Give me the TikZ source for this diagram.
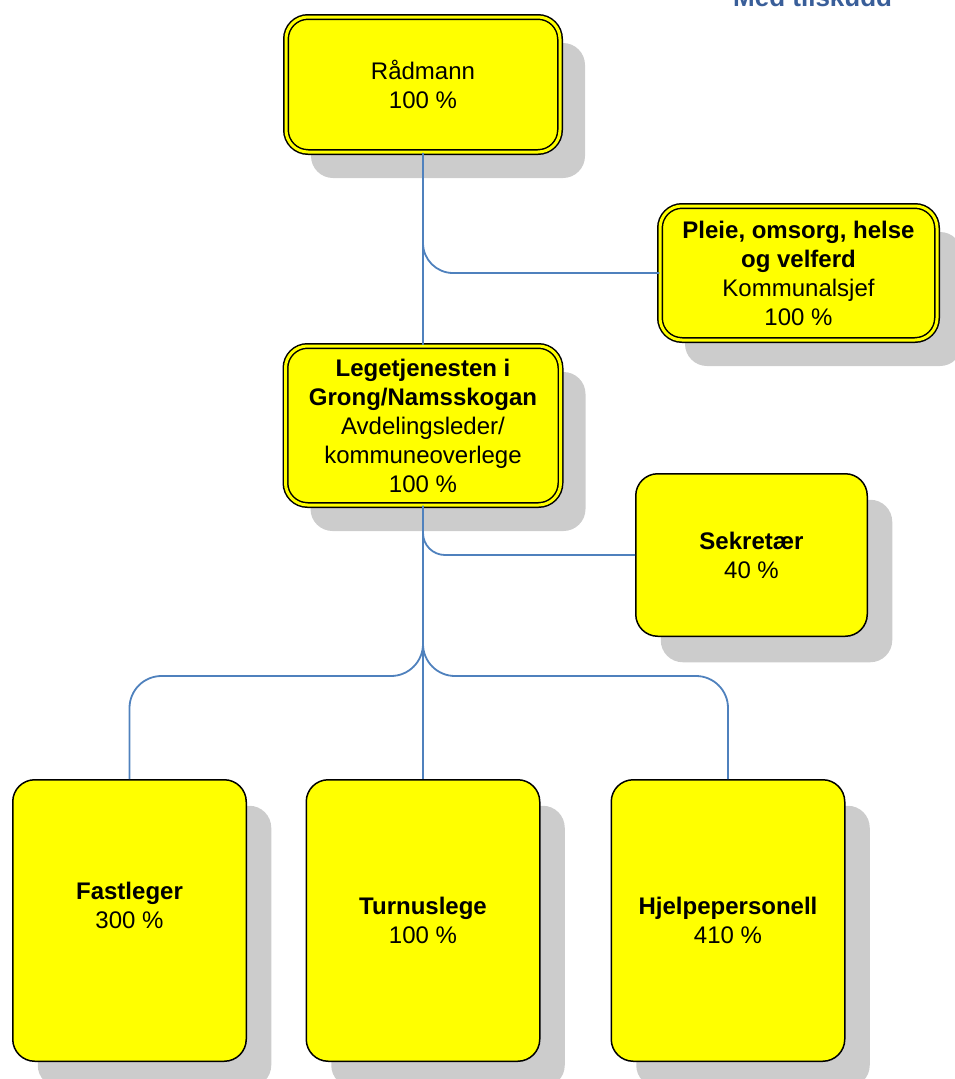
\documentclass[tikz,border=0pt]{standalone}
\usepackage{fontspec}
\setmainfont{Liberation Sans}
\usetikzlibrary{shadows}
\definecolor{boxyellow}{RGB}{255,255,0}
\definecolor{conncol}{RGB}{79,129,189}
\definecolor{shadowgray}{RGB}{204,204,204}
\definecolor{titleblue}{RGB}{57,94,153}
\begin{document}
\begin{tikzpicture}[x=1pt,y=-1pt,
  box/.style={draw=black, line width=1.5pt, fill=boxyellow, rounded corners=22pt,
    inner sep=0pt, align=center, font=\fontsize{24}{29}\selectfont,
    general shadow={fill=shadowgray, shadow xshift=25pt, shadow yshift=-26pt}},
  dbox/.style={box, double=boxyellow, double distance=3pt},
  txt/.style={inner sep=0pt, align=center, font=\fontsize{24}{29}\selectfont},
  conn/.style={draw=conncol, line width=1.8pt, rounded corners=30pt}]
\useasboundingbox (0,0) rectangle (955,1079);

% title at the top edge, mostly outside the picture as in the reference
\node[anchor=base west, inner sep=0pt, text=titleblue,
  font=\bfseries\fontsize{26}{30}\selectfont] (title) at (733,6) {Med tilskudd};

\node[dbox, minimum width=274pt, minimum height=135pt] (rad) at (423,84.5)
  {Rådmann\\100 \%};
\node[dbox, minimum width=277pt, minimum height=134pt] (pleie) at (798.5,273)
  {\textbf{Pleie, omsorg, helse}\\\textbf{og velferd}\\Kommunalsjef\\100 \%};
\node[dbox, minimum width=275pt, minimum height=159pt] (lege) at (423,425.5)
  {\textbf{Legetjenesten i}\\\textbf{Grong/Namsskogan}\\Avdelingsleder/\\kommuneoverlege\\100 \%};
\node[box, minimum width=231.5pt, minimum height=162.5pt] (sek) at (751.5,555)
  {\textbf{Sekretær}\\40 \%};
\node[box, minimum width=233.5pt, minimum height=281.5pt] (fast) at (129.5,920.5) {};
\node[txt] (fasttxt) at (129.5,905) {\textbf{Fastleger}\\300 \%};
\node[box, minimum width=233.5pt, minimum height=281.5pt] (turn) at (423,920.5)
  {\textbf{Turnuslege}\\100 \%};
\node[box, minimum width=233.5pt, minimum height=281.5pt] (hjelp) at (728,920.5)
  {\textbf{Hjelpepersonell}\\410 \%};

\coordinate (hub) at (423,676);

\draw[conn] (rad.south) -- (lege.north);
\draw[conn] (pleie.west) -| (rad.south);
\draw[conn, rounded corners=22pt] (sek.west) -| (lege.south);
\draw[conn] (lege.south) -- (turn.north);
\draw[conn, rounded corners=32pt] (fast.north) |- (hub) -- (lege.south);
\draw[conn, rounded corners=32pt] (hjelp.north) |- (hub) -- (lege.south);
\end{tikzpicture}
\end{document}
